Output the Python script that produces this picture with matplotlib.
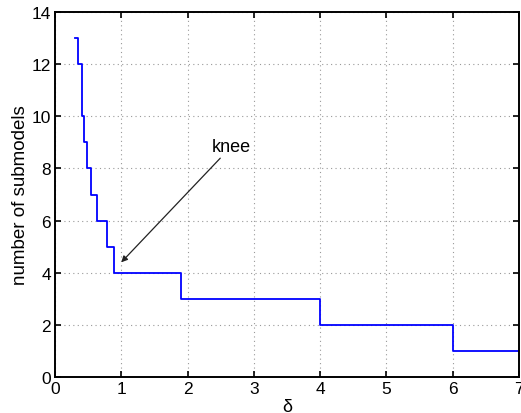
import numpy as np
import matplotlib
import matplotlib.pyplot as plt

matplotlib.use('agg')

# thresholds delta where the submodel count drops, and the count from there on
delta = [0.30, 0.34, 0.40, 0.44, 0.49, 0.55, 0.63, 0.78, 0.89, 1.90, 4.0, 6.0, 7.0]
n_submodels = [13, 12, 10, 9, 8, 7, 6, 5, 4, 3, 2, 1, 1]

# knee annotation: arrow tip and text anchor
knee_xy = (1.0, 4.4)
knee_text_xy = (2.36, 8.5)

plt.rcParams['font.family'] = ['Liberation Sans', 'DejaVu Sans']

fig = plt.figure(figsize=(5.21, 4.14), dpi=100)
ax = fig.add_axes([55/521, 1-378/414, (519-55)/521, (378-13)/414])

ax.step(delta, n_submodels, where='post', c='#0000ff', linewidth=1.3)

ax.annotate('knee', xy=knee_xy, xytext=knee_text_xy, fontsize=13,
            ha='left', va='bottom',
            arrowprops=dict(arrowstyle='-|>', color='#222222', lw=0.9,
                            mutation_scale=9, shrinkA=0, shrinkB=0))

ax.set_xlim([0, 7])
ax.set_ylim([0, 14])
ax.set_xticks(range(0, 8))
ax.set_yticks(range(0, 15, 2))
ax.grid(True, linestyle=(0, (1, 3)), color='#999999', linewidth=0.8)
ax.tick_params(direction='in', top=True, right=True, labelsize=12.5, length=4,
               width=1.2, pad=3)
for s in ax.spines.values():
    s.set_linewidth(1.4)

ax.set_xlabel("δ", fontsize=13, labelpad=1)
ax.set_ylabel("number of submodels", fontsize=13.5, labelpad=2)

fig.savefig("out.png", dpi=100)
